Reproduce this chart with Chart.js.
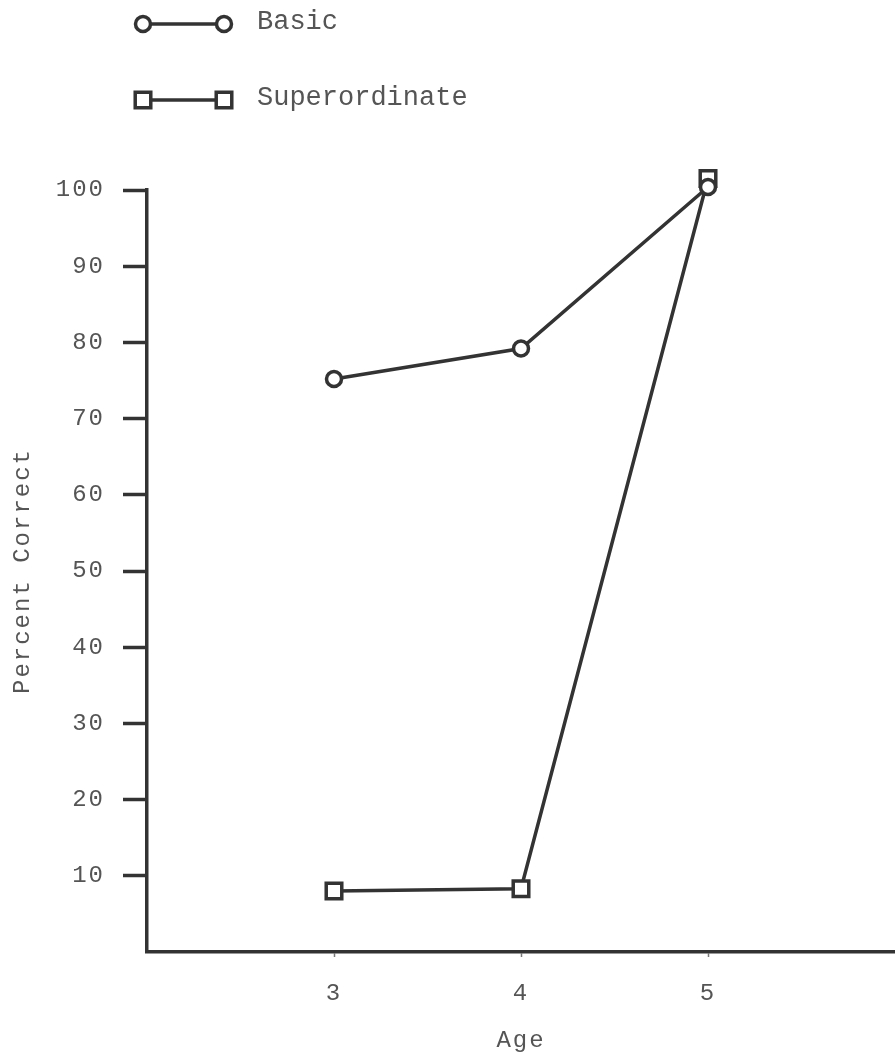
<!DOCTYPE html>
<html lang="en">
<head>
<meta charset="UTF-8">
<title>Percent Correct by Age</title>
<script src="https://cdn.jsdelivr.net/npm/chart.js"></script>
<style>
    html, body { margin: 0; padding: 0; background: #fff; }
    .janela { width: 895px; height: 1059px; }
</style>
</head>
<body>
<div class="janela">
    <canvas id="grafico" width="895" height="1059"></canvas>
</div>

<script>
    // dados
    const ages = [3, 4, 5];
    const basic = [75.2, 79.2, 100.4];
    const superordinate = [8.0, 8.3, 101.5];
    const seriesNames = ['Basic', 'Superordinate'];
    const xTicks = [3, 4, 5];
    const yTicks = [10, 20, 30, 40, 50, 60, 70, 80, 90, 100];

    const ink = '#333';
    const textInk = '#555';
    const fonte = 'Liberation Mono';

    function pontos(valores) {
        return ages.map(function (a, i) { return { x: a, y: valores[i] }; });
    }

    // espaco entre letras, como a fonte de plotter do original
    const espacoLetras = {
        id: 'espacoLetras',
        beforeLayout(chart) { chart.ctx.letterSpacing = '2px'; },
        beforeDraw(chart) { chart.ctx.letterSpacing = '2px'; }
    };

    function marcador(ctx, ds, x, y) {
        ctx.beginPath();
        if (ds.pointStyle === 'rect') {
            const s = ds.pointRadius * Math.SQRT1_2;
            ctx.rect(x - s, y - s, 2 * s, 2 * s);
        } else {
            ctx.arc(x, y, ds.pointRadius, 0, Math.PI * 2);
        }
        ctx.fillStyle = '#fff';
        ctx.fill();
        ctx.lineWidth = ds.pointBorderWidth;
        ctx.strokeStyle = ds.borderColor;
        ctx.stroke();
    }

    // legenda vertical no canto superior esquerdo
    const legendaTopo = {
        id: 'legendaTopo',
        afterDraw(chart) {
            const ctx = chart.ctx;
            const linhas = [24, 100];
            chart.data.datasets.forEach(function (ds, i) {
                const y = linhas[i];
                ctx.save();
                ctx.strokeStyle = ds.borderColor;
                ctx.lineWidth = ds.borderWidth;
                ctx.beginPath();
                ctx.moveTo(143, y);
                ctx.lineTo(224, y);
                ctx.stroke();
                marcador(ctx, ds, 143, y);
                marcador(ctx, ds, 224, y);
                ctx.fillStyle = textInk;
                ctx.font = '27px "' + fonte + '"';
                ctx.letterSpacing = '0px';
                ctx.textBaseline = 'alphabetic';
                ctx.textAlign = 'left';
                ctx.fillText(ds.label, 257, y + 5);
                ctx.restore();
            });
        }
    };

    const dados = {
        datasets: [{
            label: seriesNames[0],
            data: pontos(basic),
            borderColor: ink,
            borderWidth: 3.5,
            pointStyle: 'circle',
            pointRadius: 7.5,
            pointBorderWidth: 3.5,
            pointBackgroundColor: '#fff',
            pointBorderColor: ink,
            clip: false
        }, {
            label: seriesNames[1],
            data: pontos(superordinate),
            borderColor: ink,
            borderWidth: 3.5,
            pointStyle: 'rect',
            pointRadius: 11,
            pointBorderWidth: 3.5,
            pointBackgroundColor: '#fff',
            pointBorderColor: ink,
            clip: false
        }]
    };

    const config = {
        type: 'line',
        data: dados,
        options: {
            responsive: false,
            devicePixelRatio: 1,
            animation: false,
            layout: { autoPadding: false, padding: { top: 190, left: 0, right: -5, bottom: 0 } },
            plugins: {
                legend: { display: false },
                tooltip: { enabled: false }
            },
            scales: {
                x: {
                    type: 'linear',
                    min: 2,
                    max: 6,
                    afterBuildTicks: function (s) { s.ticks = xTicks.map(function (v) { return { value: v }; }); },
                    afterFit: function (s) { s.height = 107; s.paddingLeft = 0; s.paddingRight = 0; },
                    grid: { drawOnChartArea: false, drawTicks: true, tickLength: 5, tickWidth: 1.5, tickColor: '#777' },
                    border: { display: true, color: ink, width: 3.5 },
                    ticks: { color: textInk, font: { family: fonte, size: 24 }, padding: 22, maxRotation: 0 },
                    title: { display: true, text: 'Age', color: textInk, font: { family: fonte, size: 24 }, padding: { top: 0, bottom: 4 } }
                },
                y: {
                    type: 'linear',
                    min: 0,
                    max: 100,
                    afterBuildTicks: function (s) { s.ticks = yTicks.map(function (v) { return { value: v }; }); },
                    afterFit: function (s) { s.width = 147; },
                    grid: { drawOnChartArea: false, drawTicks: true, tickLength: 24, tickWidth: 3.5, tickColor: ink },
                    border: { display: true, color: ink, width: 3.5 },
                    ticks: { color: textInk, font: { family: fonte, size: 24 }, padding: 18 },
                    title: { display: true, text: 'Percent Correct', color: textInk, font: { family: fonte, size: 24 }, padding: { top: 8, bottom: 0 } }
                }
            }
        },
        plugins: [espacoLetras, legendaTopo]
    };

    let myChart = new Chart(document.getElementById('grafico'), config);
</script>
</body>
</html>
